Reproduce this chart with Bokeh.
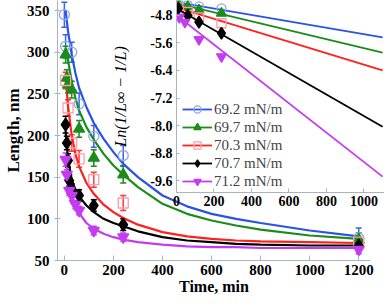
from bokeh.plotting import figure
from bokeh.layouts import column
from bokeh.models import (ColumnDataSource, Whisker, TeeHead, FixedTicker, Range1d,
                          Legend, LegendItem, PrintfTickFormatter)
from bokeh.embed import file_html
from bokeh.resources import INLINE

# ---------------- data ----------------
labels = ["69.2 mN/m", "69.7 mN/m", "70.3 mN/m", "70.7 mN/m", "71.2 mN/m"]

# measured lengths (main plot)
t_692 = [0, 5, 30, 60, 120, 240, 1200]
L_692 = [345, 307, 300, 238, 199, 176, 77]
e_692 = [15, 14, 12, 13, 13, 12, 12]

t_697 = [5, 10, 15, 30, 60, 120, 240, 1200]
L_697 = [297, 269, 261, 255, 208, 173, 153, 75]
e_697 = [10, 10, 10, 10, 10, 10, 10, 8]

t_703 = [5, 15, 30, 60, 120, 240, 1200]
L_703 = [266, 233, 191, 172, 147, 119, 72]
e_703 = [10, 10, 10, 10, 9, 9, 6]

t_707 = [5, 10, 15, 20, 30, 60, 120, 240, 1200]
L_707 = [213, 191, 170, 146, 135, 128, 116, 93, 68]
e_707 = [10, 8, 8, 7, 7, 7, 7, 7, 5]

t_712 = [5, 10, 20, 30, 45, 60, 120, 240, 1200]
L_712 = [171, 153, 134, 128, 117, 110, 86, 78, 63]
e_712 = [8, 6, 6, 6, 5, 5, 5, 5, 5]

# fitted curves (main plot)
fit_t = [5, 15, 30, 45, 60, 90, 120, 160, 200, 240, 300, 400, 500, 600, 700, 800, 1000, 1200]
fit_692 = [350, 325, 297, 275, 257, 234, 215, 196, 180, 166, 150, 128, 115, 106, 100, 95, 86, 79]
fit_697 = [305, 290, 265, 245, 230, 210, 195, 178, 164, 153, 138, 118, 106, 98, 92, 87, 80, 76]
fit_703 = [270, 235, 200, 178, 163, 143, 130, 117, 108, 101, 93, 84, 79, 76, 74, 73, 72, 71]
fit_707 = [205, 172, 147, 135, 127, 116, 108, 100, 95, 91, 85, 78, 74, 72, 70, 69, 68, 68]
fit_712 = [175, 148, 128, 116, 107, 95, 88, 82, 78, 75, 72, 69, 67, 66, 66, 65, 65, 65]

# inset: linearised data
in_t = [10, 60, 120, 240]
in_t_712 = [15, 45, 120, 240]
ln_692 = [-4.42, -4.50, -4.54, -4.60]
ln_697 = [-4.45, -4.55, -4.65, -4.74]
ln_703 = [-4.57, -4.70, -4.86, -5.03]
ln_707 = [-4.60, -4.80, -5.00, -5.32]
ln_712 = [-4.86, -5.00, -5.50, -6.00]

inline_t = [0, 1100]
lnfit_692 = [-4.42, -5.44]
lnfit_697 = [-4.45, -5.88]
lnfit_703 = [-4.57, -6.40]
lnfit_707 = [-4.60, -8.03]
lnfit_712 = [-4.80, -9.48]

x_ticks = [0, 200, 400, 600, 800, 1000, 1200]
y_ticks = [50, 100, 150, 200, 250, 300, 350]
in_x_ticks = [0, 200, 400, 600, 800, 1000]
in_y_ticks = [-9.6, -8.8, -8.0, -7.2, -6.4, -5.6, -4.8]

# ---------------- styles ----------------
SERIF = "Liberation Serif"
AX = "#aab2c4"
styles = [
    dict(line="#2a52e6", marker="circle", size=10, mline="#8ea6ee", mfill=None, err="#3a62ea"),
    dict(line="#1b8c1b", marker="triangle", size=11, mline="#1b8c1b", mfill="#1b8c1b", err="#1b8c1b"),
    dict(line="#ff2020", marker="square", size=10, mline="#ff9aa8", mfill=None, err="#ff3a3a"),
    dict(line="#000000", marker="diamond", size=13, mline="#000000", mfill="#000000", err="#000000"),
    dict(line="#c43cf0", marker="inverted_triangle", size=11, mline="#c43cf0", mfill="#c43cf0", err="#c43cf0"),
]

pts = [(t_692, L_692, e_692), (t_697, L_697, e_697), (t_703, L_703, e_703),
       (t_707, L_707, e_707), (t_712, L_712, e_712)]
fits = [fit_692, fit_697, fit_703, fit_707, fit_712]
ins = [(in_t, ln_692), (in_t, ln_697), (in_t, ln_703), (in_t, ln_707), (in_t_712, ln_712)]
infits = [lnfit_692, lnfit_697, lnfit_703, lnfit_707, lnfit_712]

# ---------------- main figure ----------------
p = figure(width=384, height=300, output_backend="svg", toolbar_location=None,
           x_range=Range1d(-28, 1248), y_range=Range1d(50, 362),
           min_border_left=54, min_border_right=14, min_border_top=0, min_border_bottom=40)
p.frame_align = False
p.outline_line_color = None
p.grid.visible = False

for fit, st in zip(fits, styles):
    p.line(fit_t, fit, line_color=st["line"], line_width=2.2)
for (t, L, e), st in zip(pts, styles):
    src = ColumnDataSource(dict(t=t, L=L, up=[a + b for a, b in zip(L, e)], lo=[a - b for a, b in zip(L, e)]))
    w = Whisker(source=src, base="t", upper="up", lower="lo", line_color=st["err"], line_width=1.5,
                upper_head=TeeHead(size=6, line_color=st["err"], line_width=1.5),
                lower_head=TeeHead(size=6, line_color=st["err"], line_width=1.5))
    p.add_layout(w)
    p.scatter("t", "L", source=src, marker=st["marker"], size=st["size"], line_color=st["mline"],
              fill_color=st["mfill"], line_width=1.3)

for ax in (p.xaxis[0], p.yaxis[0]):
    ax.axis_line_color = AX
    ax.major_tick_line_color = AX
    ax.minor_tick_line_color = None
    ax.major_label_text_font = SERIF
    ax.major_label_text_font_style = "bold"
    ax.major_label_text_font_size = "15px"
    ax.major_label_text_color = "#000000"
    ax.axis_label_text_font = SERIF
    ax.axis_label_text_font_style = "bold"
    ax.axis_label_text_color = "#000000"

p.xaxis.major_tick_in = 5
p.xaxis.major_tick_out = 0
p.yaxis.major_tick_in = 3
p.yaxis.major_tick_out = 3
p.xaxis.ticker = FixedTicker(ticks=x_ticks)
p.yaxis.ticker = FixedTicker(ticks=y_ticks)
p.xaxis.axis_label = "Time, min"
p.yaxis.axis_label = "Length, nm"
p.xaxis.axis_label_text_font_size = "16px"
p.yaxis.axis_label_text_font_size = "17px"
p.xaxis.major_label_standoff = 4
p.xaxis.axis_label_standoff = 0
p.yaxis.major_label_standoff = 5
p.yaxis.axis_label_standoff = 1

# ---------------- inset ----------------
p2 = figure(width=284, height=212, output_backend="svg", toolbar_location=None,
            x_range=Range1d(0, 1110), y_range=Range1d(-9.94, -4.37),
            min_border_left=76, min_border_right=0, min_border_top=0, min_border_bottom=20)
p2.frame_align = False
p2.outline_line_color = None
p2.grid.visible = False
p2.background_fill_alpha = 0
p2.border_fill_alpha = 0

items = []
for (t, v), fit, st, lab in zip(ins, infits, styles, labels):
    r1 = p2.line(inline_t, fit, line_color=st["line"], line_width=1.8)
    r2 = p2.scatter(t, v, marker=st["marker"], size=st["size"] - 1, line_color=st["mline"],
                    fill_color=st["mfill"], line_width=1.3)
    items.append(LegendItem(label=lab, renderers=[r1, r2]))

leg = Legend(items=items, location=(4, 0), background_fill_alpha=0, border_line_alpha=0,
             label_text_font=SERIF, label_text_font_size="15px", glyph_width=30, glyph_height=18,
             label_height=18, spacing=0, padding=2, margin=0, label_standoff=2)
p2.add_layout(leg)

for ax in (p2.xaxis[0], p2.yaxis[0]):
    ax.axis_line_color = AX
    ax.major_tick_line_color = AX
    ax.major_tick_out = 0
    ax.minor_tick_line_color = None
    ax.major_label_text_font = SERIF
    ax.major_label_text_font_style = "bold"
    ax.major_label_text_font_size = "14px"
    ax.major_label_text_color = "#000000"

p2.xaxis.major_tick_in = 4
p2.yaxis.major_tick_in = 3
p2.xaxis.ticker = FixedTicker(ticks=in_x_ticks)
p2.yaxis.ticker = FixedTicker(ticks=in_y_ticks)
p2.yaxis.formatter = PrintfTickFormatter(format="%.1f")
p2.xaxis.major_label_standoff = 3
p2.yaxis.major_label_standoff = 4
p2.yaxis.axis_label = "Ln(1/L\u221e \u2212 1/L)"
p2.yaxis.axis_label_text_font = SERIF
p2.yaxis.axis_label_text_font_style = "italic"
p2.yaxis.axis_label_text_font_size = "16px"
p2.yaxis.axis_label_text_color = "#000000"
p2.yaxis.axis_label_standoff = 18

p2.margin = (-300, 0, 88, 100)

root = column(p, p2)
open("out.html", "w").write(file_html(root, INLINE))
